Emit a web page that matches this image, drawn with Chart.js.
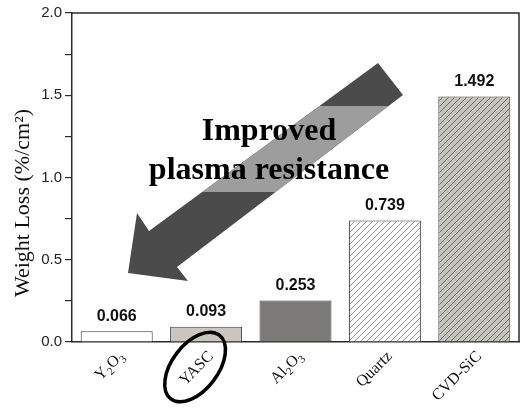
<!DOCTYPE html>
<html>
  <head>
    <meta charset="UTF-8">
    <title>Weight loss</title>
    <script src="https://cdn.jsdelivr.net/npm/chart.js"></script>
    <style>
      html, body { margin: 0; padding: 0; background: #fff; }
      #wrap { width: 526px; height: 409px; }
    </style>
  </head>
  <body>
    <div id="wrap"><canvas id="lossChart"></canvas></div>
    <script>
      // data
      const materials = ['Y2O3', 'YASC', 'Al2O3', 'Quartz', 'CVD-SiC'];
      const weightLoss = [0.066, 0.093, 0.253, 0.739, 1.492];
      const valueLabels = ['0.066', '0.093', '0.253', '0.739', '1.492'];
      const yTickLabels = ['0.0', '0.5', '1.0', '1.5', '2.0'];

      const ink = '#2b2b2b';

      // diagonal hatch fill
      function hatch(bg, line) {
        const c = document.createElement('canvas');
        c.width = 6; c.height = 6;
        const g = c.getContext('2d');
        g.fillStyle = bg;
        g.fillRect(0, 0, 6, 6);
        g.strokeStyle = line;
        g.lineWidth = 0.9;
        g.beginPath();
        g.moveTo(0, 6); g.lineTo(6, 0);
        g.moveTo(-1, 1); g.lineTo(1, -1);
        g.moveTo(5, 7); g.lineTo(7, 5);
        g.stroke();
        return g.createPattern(c, 'repeat');
      }

      const barFills = [
        '#ffffff',
        '#c9c6c0',
        '#7c7a76',
        hatch('#ffffff', '#8a8a8a'),
        hatch('#c6c4be', '#605e5a')
      ];

      // frame on top and right
      const framePlugin = {
        id: 'frame',
        beforeDatasetsDraw(chart) {
          const { ctx, chartArea: a } = chart;
          ctx.save();
          ctx.strokeStyle = ink;
          ctx.lineWidth = 1.5;
          ctx.beginPath();
          ctx.moveTo(a.left, a.top);
          ctx.lineTo(a.right, a.top);
          ctx.lineTo(a.right, a.bottom);
          ctx.stroke();
          ctx.restore();
        }
      };

      // big arrow + annotation text
      const arrowPlugin = {
        id: 'arrow',
        afterDatasetsDraw(chart) {
          const ctx = chart.ctx;
          const pts = [[378, 63], [149, 231], [137, 213], [128, 273], [188, 281], [177, 267], [403, 95]];
          ctx.save();
          ctx.beginPath();
          pts.forEach((p, i) => i ? ctx.lineTo(p[0], p[1]) : ctx.moveTo(p[0], p[1]));
          ctx.closePath();
          ctx.fillStyle = '#4b4b4b';
          ctx.fill();
          ctx.clip();
          ctx.fillStyle = '#9d9d9d';
          ctx.fillRect(0, 106, 526, 86);
          ctx.restore();

          ctx.save();
          ctx.fillStyle = '#000';
          ctx.font = 'bold 32px "Liberation Serif", "Times New Roman", serif';
          ctx.textAlign = 'center';
          ctx.textBaseline = 'alphabetic';
          ctx.fillText('Improved', 269, 140);
          ctx.fillText('plasma resistance', 269, 179);
          ctx.restore();
        }
      };

      // numbers above bars
      const valuePlugin = {
        id: 'values',
        afterDatasetsDraw(chart) {
          const ctx = chart.ctx;
          const meta = chart.getDatasetMeta(0);
          ctx.save();
          ctx.fillStyle = '#111';
          ctx.font = 'bold 16px "Liberation Sans", Arial, sans-serif';
          ctx.textAlign = 'center';
          ctx.textBaseline = 'bottom';
          meta.data.forEach((bar, i) => {
            ctx.fillText(valueLabels[i], bar.x, bar.y - 7);
          });
          ctx.restore();
        }
      };

      // rotated category labels with subscripts, y title, circle on YASC
      const labelPlugin = {
        id: 'labels',
        afterDraw(chart) {
          const ctx = chart.ctx;
          const xs = chart.scales.x;
          const serif = '"Liberation Serif", "Times New Roman", serif';
          materials.forEach((name, i) => {
            const runs = name.match(/[^0-9]+|[0-9]+/g).map(s => ({ s, sub: /^[0-9]+$/.test(s) }));
            ctx.save();
            let w = 0;
            runs.forEach(r => {
              ctx.font = (r.sub ? '11px ' : '16px ') + serif;
              w += ctx.measureText(r.s).width;
            });
            ctx.translate(xs.getPixelForValue(i) + 5, 354);
            ctx.rotate(-Math.PI / 4);
            ctx.fillStyle = '#111';
            ctx.textBaseline = 'middle';
            ctx.textAlign = 'left';
            let x = -w;
            runs.forEach(r => {
              ctx.font = (r.sub ? '11px ' : '16px ') + serif;
              ctx.fillText(r.s, x, r.sub ? 5 : 0);
              x += ctx.measureText(r.s).width;
            });
            ctx.restore();
          });

          ctx.save();
          ctx.translate(23, 203);
          ctx.rotate(-Math.PI / 2);
          ctx.font = '22px ' + serif;
          ctx.fillStyle = '#111';
          ctx.textAlign = 'center';
          ctx.textBaseline = 'middle';
          ctx.fillText('Weight Loss (%/cm\u00b2)', 0, 0);
          ctx.restore();

          ctx.save();
          ctx.strokeStyle = '#000';
          ctx.lineWidth = 3.5;
          ctx.beginPath();
          ctx.ellipse(xs.getPixelForValue(1) - 11, 367, 40, 23, -0.92, 0, Math.PI * 2);
          ctx.stroke();
          ctx.restore();
        }
      };

      new Chart(document.getElementById('lossChart').getContext('2d'), {
        type: 'bar',
        data: {
          labels: materials,
          datasets: [{
            data: weightLoss,
            backgroundColor: barFills,
            borderColor: '#3a3a3a',
            borderWidth: 1,
            barPercentage: 0.805,
            categoryPercentage: 1
          }]
        },
        options: {
          responsive: true,
          maintainAspectRatio: false,
          animation: false,
          layout: { padding: { top: 13, right: 7, left: 0, bottom: 0 } },
          plugins: { legend: { display: false }, tooltip: { enabled: false } },
          scales: {
            x: {
              grid: { display: false },
              border: { color: ink, width: 1.5 },
              ticks: { display: false },
              afterFit(scale) { scale.height = 67; }
            },
            y: {
              min: 0,
              max: 2,
              ticks: {
                stepSize: 0.25,
                color: '#222',
                padding: 3,
                font: { family: '"Liberation Sans", Arial, sans-serif', size: 15 },
                callback(v) {
                  const k = Math.round(v * 2);
                  return Math.abs(v * 2 - k) < 1e-6 ? yTickLabels[k] : '';
                }
              },
              grid: { drawOnChartArea: false, tickLength: 7, color: ink, lineWidth: 1.2 },
              border: { color: ink, width: 1.5 },
              afterFit(scale) { scale.width = 72; }
            }
          }
        },
        plugins: [framePlugin, arrowPlugin, valuePlugin, labelPlugin]
      });
    </script>
  </body>
</html>
